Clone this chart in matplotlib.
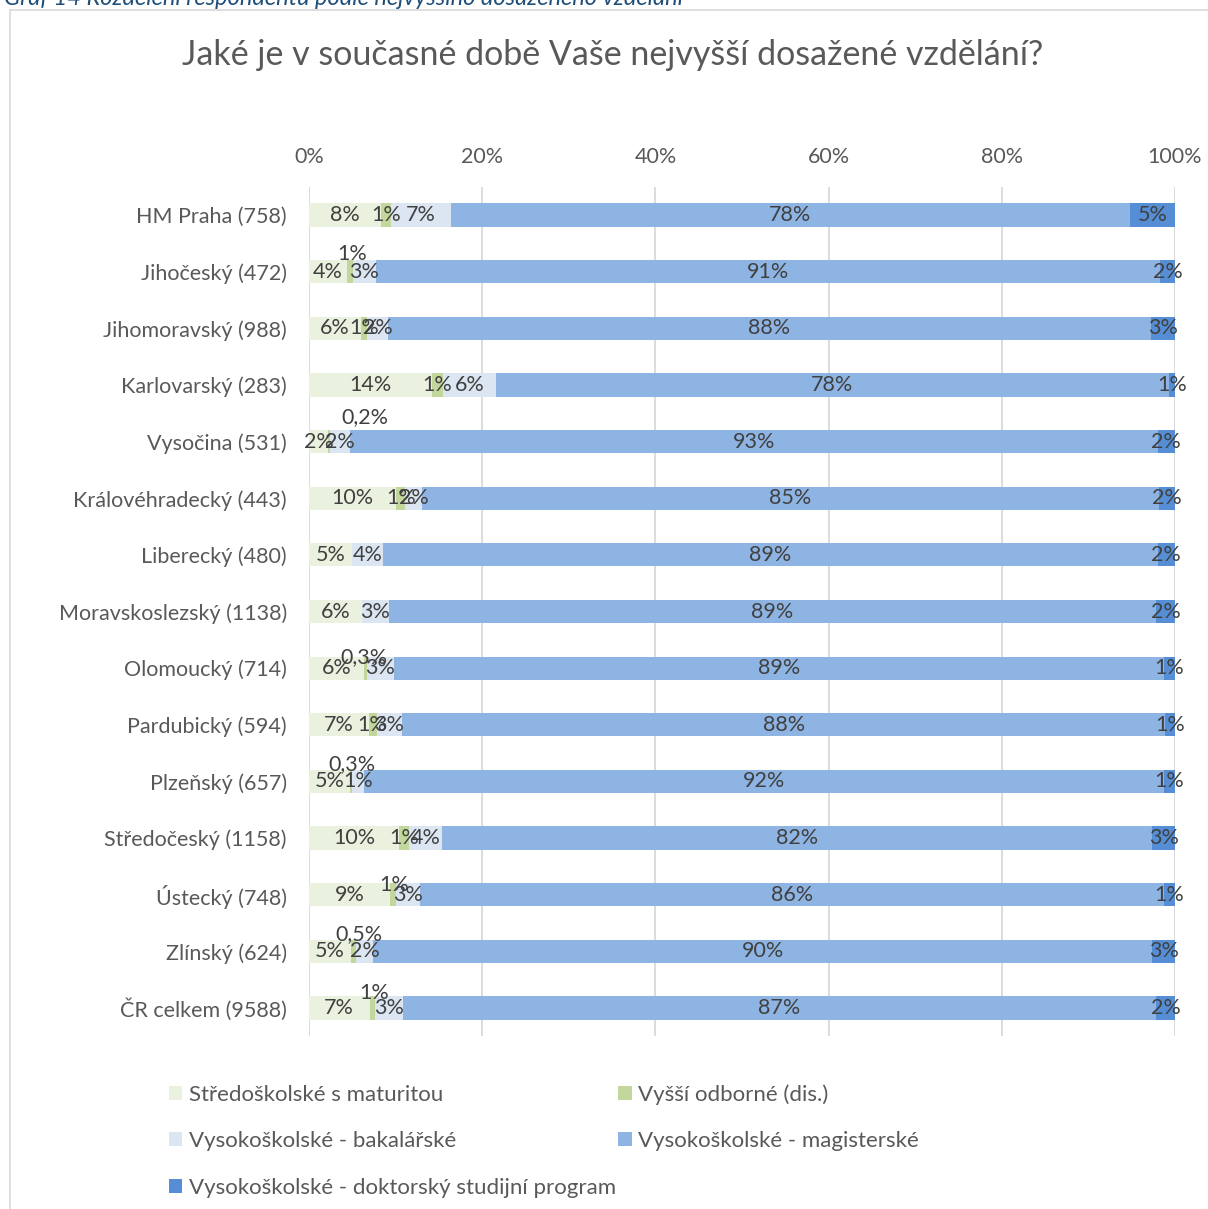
import matplotlib
matplotlib.use("Agg")
import matplotlib.pyplot as plt
from matplotlib.patches import Rectangle
import numpy as np

# Regions with respondent counts
categories = [
    "HM Praha (758)", "Jihočeský (472)", "Jihomoravský (988)", "Karlovarský (283)",
    "Vysočina (531)", "Královéhradecký (443)", "Liberecký (480)", "Moravskoslezský (1138)",
    "Olomoucký (714)", "Pardubický (594)", "Plzeňský (657)", "Středočeský (1158)",
    "Ústecký (748)", "Zlínský (624)", "ČR celkem (9588)",
]

series_names = [
    "Středoškolské s maturitou",
    "Vyšší odborné (dis.)",
    "Vysokoškolské - bakalářské",
    "Vysokoškolské - magisterské",
    "Vysokoškolské - doktorský studijní program",
]

# Shares in percent, one list per education level (same order as categories)
stredoskolske = [8.3, 4.4, 6.0, 14.2, 2.2, 10.1, 5.0, 6.1, 6.4, 6.9, 4.7, 10.4, 9.4, 4.9, 7.0]
vyssi_odborne = [1.2, 0.7, 0.7, 1.3, 0.2, 1.0, 0.0, 0.0, 0.3, 0.9, 0.3, 1.2, 0.7, 0.5, 0.6]
bakalarske   = [6.9, 2.6, 2.4, 6.1, 2.3, 2.0, 3.6, 3.1, 3.1, 2.9, 1.4, 3.8, 2.7, 2.0, 3.2]
magisterske  = [78.4, 90.6, 88.1, 77.7, 93.3, 85.0, 89.4, 88.6, 88.9, 88.2, 92.3, 82.0, 85.9, 90.0, 87.0]
doktorske    = [5.2, 1.7, 2.8, 0.7, 2.0, 1.9, 2.0, 2.2, 1.3, 1.1, 1.3, 2.6, 1.3, 2.6, 2.2]

x_ticks = [0, 20, 40, 60, 80, 100]

colors = ["#EBF1DF", "#C3D69B", "#DCE6F2", "#8EB4E3", "#558ED5"]
text_color = "#404040"
axis_text = "#595959"
FONT = "Lato"
FS = 15.5

# Small labels shifted away from their segment (row, series) -> (dx, dy) in pixels
label_shift = {
    (1, 1): (2, 18),
    (4, 1): (36, 24),
    (8, 1): (-2, 11),
    (10, 1): (1, 17),
    (12, 1): (1, 10),
    (13, 1): (5, 17),
    (14, 1): (2, 15),
}


def fmt(v):
    if v < 0.55:
        return ("%.1f" % v).replace(".", ",") + "%"
    return "%d%%" % int(np.floor(v + 0.5))


fig = plt.figure(figsize=(12.08, 12.09), dpi=100)
W, H = 1208, 1209

# outer frame
fig.add_artist(Rectangle((10 / W, -0.1), 1.2, 1 - 10 / H + 0.1, transform=fig.transFigure,
                         fill=False, edgecolor="#D9D9D9", linewidth=1.2))

# caption above the frame (partly clipped)
fig.text(0.003, 1 - 5 / H, "Graf 14 Rozdělení respondentů podle nejvyššího dosaženého vzdělání",
         fontsize=17, style="italic", color="#1F4E79", family=FONT, va="baseline", ha="left")

fig.text(613 / W, 1 - 55 / H, "Jaké je v současné době Vaše nejvyšší dosažené vzdělání?",
         fontsize=24.5, color=axis_text, family=FONT, ha="center", va="center")

ax_top = 186.7
ax_bot = 1036.3
ax = fig.add_axes([309 / W, 1 - ax_bot / H, (1175 - 309) / W, (ax_bot - ax_top) / H])

data = [stredoskolske, vyssi_odborne, bakalarske, magisterske, doktorske]
n = len(categories)
y = np.arange(n)
left = np.zeros(n)
handles = []
for si, vals in enumerate(data):
    vals = np.array(vals)
    bars = ax.barh(y, vals, left=left, height=0.41, color=colors[si], label=series_names[si],
                   zorder=3)
    handles.append(bars)
    for ri in range(n):
        v = vals[ri]
        if v <= 0:
            continue
        dx, dy = label_shift.get((ri, si), (0, 0))
        ax.annotate(fmt(v), (left[ri] + v / 2, y[ri]), xytext=(dx, dy),
                    textcoords="offset pixels", ha="center", va="center",
                    fontsize=FS, color=text_color, family=FONT, zorder=5)
    left = left + vals

ax.set_xlim(0, 100)
ax.set_ylim(n - 0.5, -0.5)
ax.set_yticks(y)
ax.set_yticklabels(categories, fontsize=FS, color=axis_text, family=FONT)
ax.set_xticks(x_ticks)
ax.set_xticklabels(["%d%%" % t for t in x_ticks], fontsize=FS, color=axis_text, family=FONT)
ax.xaxis.tick_top()
ax.tick_params(axis="both", length=0)
ax.tick_params(axis="x", pad=14)
ax.tick_params(axis="y", pad=16)
ax.grid(axis="x", color="#D9D9D9", linewidth=1.3, zorder=0)
for s in ax.spines.values():
    s.set_visible(False)

order = [0, 2, 4, 1, 3]
leg = fig.legend([handles[i] for i in order], [series_names[i] for i in order],
                 loc="upper left", bbox_to_anchor=(149 / W, 1 - 1064 / H), ncol=2,
                 frameon=False, handlelength=0.6, handleheight=0.6,
                 handletextpad=0.3, columnspacing=0.1, labelspacing=1.2,
                 prop={"family": FONT, "size": 16})
for t in leg.get_texts():
    t.set_color(axis_text)

fig.savefig("out.png", dpi=100)
